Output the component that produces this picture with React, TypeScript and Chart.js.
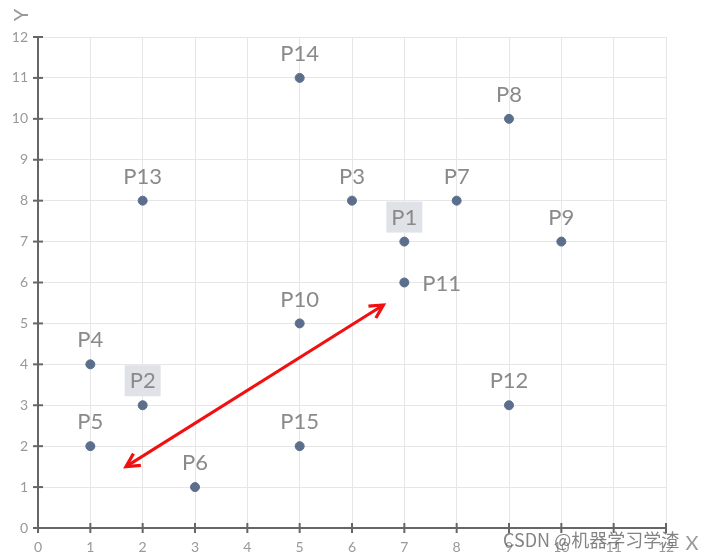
import React, { useEffect, useRef } from "react";
import { Chart, registerables } from "chart.js";

Chart.register(...registerables);

const pointNames = ["P1", "P2", "P3", "P4", "P5", "P6", "P7", "P8", "P9", "P10", "P11", "P12", "P13", "P14", "P15"];
const pointX = [7, 2, 6, 1, 1, 3, 8, 9, 10, 5, 7, 9, 2, 5, 5];
const pointY = [7, 3, 8, 4, 2, 1, 8, 10, 7, 5, 6, 3, 8, 11, 2];
const labelSide = ["top", "top", "top", "top", "top", "top", "top", "top", "top", "top", "right", "top", "top", "top", "top"];
const highlighted = ["P1", "P2"];
const arrowX = [1.68, 6.6];
const arrowY = [1.5, 5.45];
const xTicks = [0, 1, 2, 3, 4, 5, 6, 7, 8, 9, 10, 11, 12];
const yTicks = [0, 1, 2, 3, 4, 5, 6, 7, 8, 9, 10, 11, 12];

const FONT = "Lato, 'Open Sans', sans-serif";

const overlayPlugin = {
  id: "overlay",
  afterDatasetsDraw(chart: any) {
    const ctx = chart.ctx;
    const xs = chart.scales.x;
    const ys = chart.scales.y;
    const area = chart.chartArea;
    ctx.save();
    // tick marks crossing axes
    ctx.strokeStyle = "#666";
    ctx.lineWidth = 2;
    xTicks.forEach((v) => {
      const px = xs.getPixelForValue(v);
      ctx.beginPath();
      ctx.moveTo(px, area.bottom - 5);
      ctx.lineTo(px, area.bottom + 5);
      ctx.stroke();
    });
    yTicks.forEach((v) => {
      const py = ys.getPixelForValue(v);
      ctx.beginPath();
      ctx.moveTo(area.left - 5, py);
      ctx.lineTo(area.left + 5, py);
      ctx.stroke();
    });

    // point labels
    const meta = chart.getDatasetMeta(0);
    ctx.font = "22px " + FONT;
    ctx.textBaseline = "middle";
    meta.data.forEach((el: any, i: number) => {
      const name = pointNames[i];
      let tx = el.x;
      let ty = el.y - 25;
      ctx.textAlign = "center";
      if (labelSide[i] === "right") {
        tx = el.x + 18;
        ty = el.y;
        ctx.textAlign = "left";
      }
      if (highlighted.includes(name)) {
        const w = ctx.measureText(name).width + 10;
        ctx.fillStyle = "#dfe3e8";
        ctx.fillRect(tx - w / 2, ty - 15, w, 31);
      }
      ctx.fillStyle = "#8a8a8a";
      ctx.fillText(name, tx, ty + 1);
    });

    // arrow heads
    const am = chart.getDatasetMeta(1);
    const a = am.data[0];
    const b = am.data[1];
    const drawHead = (from: any, to: any) => {
      const ang = Math.atan2(to.y - from.y, to.x - from.x);
      const len = 15;
      const spread = Math.PI / 6.5;
      ctx.beginPath();
      ctx.moveTo(to.x - len * Math.cos(ang - spread), to.y - len * Math.sin(ang - spread));
      ctx.lineTo(to.x, to.y);
      ctx.lineTo(to.x - len * Math.cos(ang + spread), to.y - len * Math.sin(ang + spread));
      ctx.strokeStyle = "#f01010";
      ctx.lineWidth = 3.2;
      ctx.lineJoin = "miter";
      ctx.stroke();
    };
    drawHead(a, b);
    drawHead(b, a);

    // axis titles
    ctx.fillStyle = "#999";
    ctx.font = "20px " + FONT;
    ctx.textAlign = "center";
    ctx.textBaseline = "middle";
    ctx.save();
    ctx.translate(22, 15);
    ctx.rotate(-Math.PI / 2);
    ctx.fillText("Y", 0, 0);
    ctx.restore();
    ctx.fillText("X", 692, 544);

    // watermark
    ctx.font = "18px 'Noto Sans CJK SC', sans-serif";
    ctx.fillStyle = "rgba(90,90,90,0.75)";
    ctx.textAlign = "left";
    ctx.fillText("CSDN @机器学习学渣", 503, 540);
    ctx.restore();
  },
};

export default function App() {
  const ref = useRef<HTMLCanvasElement | null>(null);
  useEffect(() => {
    if (!ref.current) return;
    const chart = new Chart(ref.current, {
      type: "scatter",
      data: {
        datasets: [
          {
            data: pointX.map((x, i) => ({ x, y: pointY[i] })),
            backgroundColor: "#5b6f8c",
            borderColor: "#5b6f8c",
            pointRadius: 4.5,
            pointHoverRadius: 4.5,
          },
          {
            data: arrowX.map((x, i) => ({ x, y: arrowY[i] })),
            showLine: true,
            borderColor: "#f01010",
            borderWidth: 3,
            pointRadius: 0,
          } as any,
        ],
      },
      options: {
        animation: false,
        responsive: false,
        maintainAspectRatio: false,
        layout: { padding: { top: 37, right: 44, left: 0, bottom: 0 } },
        plugins: { legend: { display: false }, tooltip: { enabled: false } },
        scales: {
          x: {
            type: "linear",
            min: 0,
            max: 12,
            afterFit: (s: any) => {
              s.height = 31;
            },
            afterBuildTicks: (s: any) => {
              s.ticks = xTicks.map((v) => ({ value: v }));
            },
            grid: { color: "#e6e6e6", drawTicks: false, lineWidth: 1 },
            border: { display: true, color: "#666", width: 2 },
            ticks: { color: "#999", font: { size: 14, family: FONT }, padding: 11 },
          },
          y: {
            type: "linear",
            min: 0,
            max: 12,
            afterFit: (s: any) => {
              s.width = 38;
            },
            afterBuildTicks: (s: any) => {
              s.ticks = yTicks.map((v) => ({ value: v }));
            },
            grid: { color: "#e6e6e6", drawTicks: false, lineWidth: 1 },
            border: { display: true, color: "#666", width: 2 },
            ticks: { color: "#999", font: { size: 14, family: FONT }, padding: 10 },
          },
        },
      },
      plugins: [overlayPlugin],
    });
    return () => chart.destroy();
  }, []);
  return (
    <div style={{ position: "fixed", left: 0, top: 0, width: 710, height: 559, background: "#fff" }}>
      <canvas ref={ref} width={710} height={559} style={{ width: 710, height: 559 }} />
    </div>
  );
}
